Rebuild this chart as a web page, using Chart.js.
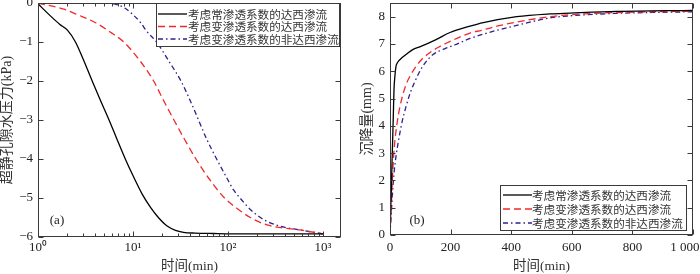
<!DOCTYPE html>
<html><head><meta charset="utf-8">
<script src="https://cdn.jsdelivr.net/npm/chart.js@4.4.0/dist/chart.umd.min.js"></script>
<style>
html,body{margin:0;padding:0;background:#fff;width:700px;height:274px;overflow:hidden}
canvas{position:absolute;top:0}
#ca{left:0}#cb{left:350px}
</style></head><body>
<canvas id="ca" width="350" height="274"></canvas>
<canvas id="cb" width="350" height="274"></canvas>
<script>
// ---------- data ----------
const seriesNames = ['考虑常渗透系数的达西渗流', '考虑变渗透系数的达西渗流', '考虑变渗透系数的非达西渗流'];
const seriesColors = ['#000000', '#f02a2a', '#2e1f8c'];

// Panel (a): excess pore pressure (kPa) vs time (min), log time axis
const tA1 = [1, 1.35, 1.7, 2.03, 2.48, 3.0, 3.72, 4.55, 5.6, 6.8, 8.3, 10.2, 12.5, 15.3, 18.5, 22.9, 28, 34, 45, 70, 150, 1000];
const pA1 = [-0.02, -0.33, -0.55, -0.69, -1.0, -1.45, -2.0, -2.5, -3.0, -3.5, -4.0, -4.47, -4.9, -5.24, -5.5, -5.72, -5.83, -5.88, -5.9, -5.91, -5.92, -5.92];
const tA2 = [1, 1.87, 2.6, 4.0, 5.8, 8.0, 12, 16.5, 21, 27, 35, 46, 63, 92, 130, 172, 258, 578, 1000];
const pA2 = [0, -0.16, -0.3, -0.5, -0.75, -1.0, -1.5, -2.0, -2.5, -3.0, -3.5, -4.0, -4.5, -5.0, -5.3, -5.5, -5.69, -5.82, -5.92];
const tA3 = [1, 5, 6.8, 8.2, 10, 12, 14.1, 17.7, 24, 32, 40, 49, 60, 76, 98, 115, 134, 173, 220, 258, 350, 578, 1000];
const pA3 = [0, 0, -0.04, -0.13, -0.3, -0.5, -0.74, -1.0, -1.5, -2.0, -2.5, -3.0, -3.5, -4.0, -4.5, -4.8, -5.0, -5.3, -5.5, -5.6, -5.72, -5.82, -5.92];
const xTicksA = [1, 10, 100, 1000];
const xTickLabelsA = ['10⁰', '10¹', '10²', '10³'];
const xMinorA = [2,3,4,5,6,7,8,9,20,30,40,50,60,70,80,90,200,300,400,500,600,700,800,900];
const yTicksA = [-6, -5, -4, -3, -2, -1, 0];
const yTickLabelsA = ['−6', '−5', '−4', '−3', '−2', '−1', '0'];

// Panel (b): settlement (mm) vs time (min)
const tB1 = [0, 1.5, 3, 4.4, 6.5, 8.8, 11, 13.2, 16, 19.8, 24, 28.6, 40, 55, 75, 100, 152, 198, 264, 308, 418, 527, 594, 747, 1000];
const sB1 = [0, 0.5, 1.2, 1.65, 2.6, 3.49, 4.4, 5.32, 5.8, 6.18, 6.3, 6.38, 6.5, 6.63, 6.79, 6.9, 7.16, 7.42, 7.65, 7.78, 8.0, 8.1, 8.13, 8.19, 8.23];
const tB2 = [0, 1.5, 3, 4.4, 6.5, 8.8, 12, 16.5, 24, 33, 44, 55, 70, 86, 106, 130, 160, 204, 264, 302, 360, 418, 527, 594, 747, 1000];
const sB2 = [0, 0.4, 0.8, 1.04, 1.7, 2.26, 2.9, 3.49, 4.15, 4.71, 5.2, 5.57, 5.9, 6.18, 6.45, 6.67, 6.88, 7.12, 7.4, 7.5, 7.67, 7.8, 8.0, 8.07, 8.15, 8.2];
const tB3 = [0, 2, 3.5, 5.5, 9, 13.2, 20, 28.6, 40, 53, 65, 80, 108, 141, 180, 215, 264, 314, 418, 527, 594, 747, 1000];
const sB3 = [0, 0.4, 0.7, 1.04, 1.65, 2.26, 2.9, 3.49, 4.15, 4.71, 5.15, 5.57, 6.18, 6.6, 6.82, 6.97, 7.2, 7.38, 7.68, 7.95, 8.03, 8.12, 8.18];
const xTicksB = [0, 200, 400, 600, 800, 1000];
const xTickLabelsB = ['0', '200', '400', '600', '800', '1 000     '];
const yTicksB = [0, 1, 2, 3, 4, 5, 6, 7, 8];
const yTickLabelsB = ['0', '1', '2', '3', '4', '5', '6', '7', '8'];

// ---------- helpers ----------
const dashes = [[], [7, 4], [5, 3, 1.5, 3]];
const serif = '"Liberation Serif", "Noto Sans CJK SC", serif';
const tickFont = {family: serif, size: 13};
const textColor = '#222';

function makeSets(ts, vs) {
  return ts.map((t, k) => ({
    label: seriesNames[k],
    data: t.map((x, i) => ({x: x, y: vs[k][i]})),
    borderColor: seriesColors[k],
    borderDash: dashes[k],
    borderWidth: 1.3,
    pointRadius: 0,
    fill: false,
    cubicInterpolationMode: 'monotone'
  }));
}

function framePlugin(cfg) {
  return {
    id: 'frame',
    afterDraw(chart) {
      const {ctx, chartArea: a, scales} = chart;
      ctx.save();
      ctx.strokeStyle = '#3a3a3a';
      ctx.lineWidth = 1;
      ctx.setLineDash([]);
      const L = Math.round(a.left) + 0.5, R = Math.round(a.right) - 0.5;
      const T = Math.round(a.top) + 0.5, B = Math.round(a.bottom) - 0.5;
      ctx.strokeRect(L, T, R - L, B - T);
      ctx.beginPath();
      const xt = (v, len) => {
        const p = Math.round(scales.x.getPixelForValue(v)) + 0.5;
        ctx.moveTo(p, B); ctx.lineTo(p, B - len);
        ctx.moveTo(p, T); ctx.lineTo(p, T + len);
      };
      scales.x.ticks.forEach(t => xt(t.value, 5));
      (cfg.minor || []).forEach(v => xt(v, 3));
      scales.y.ticks.forEach(t => {
        const p = Math.round(scales.y.getPixelForValue(t.value)) + 0.5;
        ctx.moveTo(L, p); ctx.lineTo(L + 5, p);
        ctx.moveTo(R, p); ctx.lineTo(R - 5, p);
      });
      ctx.stroke();

      // legend
      const lg = cfg.legend;
      ctx.fillStyle = '#fff';
      ctx.fillRect(lg.x0, lg.y0, lg.x1 - lg.x0, lg.y1 - lg.y0);
      ctx.strokeStyle = '#3a3a3a';
      ctx.strokeRect(lg.x0 + 0.5, lg.y0 + 0.5, lg.x1 - lg.x0 - 1, lg.y1 - lg.y0 - 1);
      ctx.font = '11.6px "Noto Sans CJK SC", sans-serif';
      ctx.textBaseline = 'middle';
      ctx.textAlign = 'left';
      chart.data.datasets.forEach((ds, i) => {
        const y = lg.rows[i];
        ctx.strokeStyle = ds.borderColor;
        ctx.lineWidth = 1.3;
        ctx.setLineDash(ds.borderDash);
        ctx.beginPath();
        ctx.moveTo(lg.lx0, y); ctx.lineTo(lg.lx1, y);
        ctx.stroke();
        ctx.setLineDash([]);
        ctx.fillStyle = '#333';
        ctx.fillText(ds.label, lg.tx, y + 0.5);
      });
      // panel label
      ctx.font = '13px ' + serif;
      ctx.fillStyle = textColor;
      ctx.textAlign = 'center';
      ctx.fillText(cfg.panel.text, cfg.panel.x, cfg.panel.y);
      ctx.restore();
    }
  };
}

function axisCfg(o) {
  return {
    type: o.type || 'linear',
    min: o.min, max: o.max,
    afterBuildTicks: s => { s.ticks = o.ticks.map(v => ({value: v})); },
    afterFit: s => {
      if (o.axis === 'x') s.height = o.size; else s.width = o.size;
      s.paddingTop = 0; s.paddingBottom = 0; s.paddingLeft = 0; s.paddingRight = 0;
    },
    ticks: {
      callback: (v, i) => o.labels[i],
      font: tickFont, color: textColor, padding: o.pad,
      autoSkip: false, maxRotation: 0, minRotation: 0
    },
    grid: {display: false, drawTicks: false},
    border: {display: false},
    title: {display: true, text: o.title, font: {family: serif, size: o.tsize, lineHeight: 1.1}, color: '#333', padding: o.tpad}
  };
}

Chart.defaults.animation = false;

new Chart(document.getElementById('ca'), {
  type: 'line',
  data: {datasets: makeSets([tA1, tA2, tA3], [pA1, pA2, pA3])},
  options: {
    responsive: false, devicePixelRatio: 1, animation: false, events: [],
    layout: {padding: {top: 3, right: 9, left: 0, bottom: 0}},
    plugins: {legend: {display: false}, tooltip: {enabled: false}},
    scales: {
      x: axisCfg({axis: 'x', type: 'logarithmic', min: 1, max: 1550, ticks: xTicksA, labels: xTickLabelsA, size: 37, pad: 3, title: '时间(min)', tsize: 13.5, tpad: {top: 0, bottom: 0}}),
      y: axisCfg({axis: 'y', min: -6, max: 0, ticks: yTicksA, labels: yTickLabelsA, size: 38, pad: 5, title: '超静孔隙水压力(kPa)', tsize: 14, tpad: {top: 0, bottom: 0}})
    }
  },
  plugins: [framePlugin({
    minor: xMinorA,
    legend: {x0: 156, x1: 340, y0: 3, y1: 47, rows: [14, 26.5, 39], lx0: 158, lx1: 187, tx: 188},
    panel: {text: '(a)', x: 57, y: 221}
  })]
});

new Chart(document.getElementById('cb'), {
  type: 'line',
  data: {datasets: makeSets([tB1, tB2, tB3], [sB1, sB2, sB3])},
  options: {
    responsive: false, devicePixelRatio: 1, animation: false, events: [],
    layout: {padding: {top: 3, right: 7, left: 0, bottom: 0}},
    plugins: {legend: {display: false}, tooltip: {enabled: false}},
    scales: {
      x: axisCfg({axis: 'x', type: 'linear', min: 0, max: 1000, ticks: xTicksB, labels: xTickLabelsB, size: 39, pad: 5, title: '时间(min)', tsize: 13.5, tpad: {top: 0, bottom: 0}}),
      y: axisCfg({axis: 'y', min: 0, max: 8.5, ticks: yTicksB, labels: yTickLabelsB, size: 40, pad: 5, title: '沉降量(mm)', tsize: 14, tpad: {top: 10, bottom: 0}})
    }
  },
  plugins: [framePlugin({
    legend: {x0: 150, x1: 337, y0: 185, y1: 231, rows: [195, 209, 223], lx0: 153, lx1: 182, tx: 182},
    panel: {text: '(b)', x: 67, y: 221}
  })]
});
</script>
</body></html>
